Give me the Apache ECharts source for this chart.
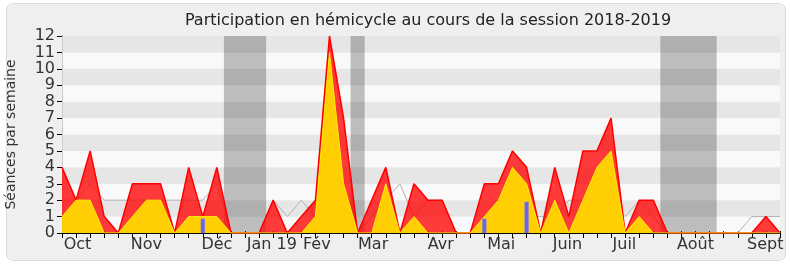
<!DOCTYPE html>
<html><head><meta charset="utf-8">
<script src="https://cdn.jsdelivr.net/npm/echarts@6/dist/echarts.min.js"></script>
<style>html,body{margin:0;padding:0;background:#fff}#c{width:790px;height:267px}</style>
</head><body><div id="c"></div>
<script>
// Weekly data, week index 0 = first week of October 2018
const seances    = [4,2,5,1,0,3,3,3,0,4,1,4,0,0,0,2,0,1,2,12,7,0,2,4,0,3,2,2,0,0,3,3,5,4,0,4,1,5,5,7,0,2,2,0,0,0,0,0,0,0,1,0];
const presences  = [1,2,2,0,0,1,2,2,0,1,1,1,0,0,0,0,0,0,1,11,3,0,0,3,0,1,0,0,0,0,1,2,4,3,0,2,0,2,4,5,0,1,0,0,0,0,0,0,0,0,0,0];
const mediane    = [2,2,3,2,2,2,2,2,2,2,2,3,0,0,0,2,1,2,1,3,2,0,1,2,3,1,2,2,0,0,1,2,2,1,1,1,2,2,1,2,1,2,1,0,0,0,0,0,0,1,1,1];
const questions  = [0,0,0,0,0,0,0,0,0,0,0.87,0,0,0,0,0,0,0,0,0,0,0,0,0,0,0,0,0,0,0,0.87,0,0,1.9,0,0,0,0,0,0,0,0,0,0,0,0,0,0,0,0,0,0];
const vacances   = [[11.5,14.5],[20.5,21.5],[42.5,46.5]];
const monthNames = ['Oct','Nov','Déc','Jan 19','Fév','Mar','Avr','Mai','Juin','Juil','Août','Sept'];
const monthPos   = [1.1,6.0,11.0,14.9,18.1,22.1,26.9,31.2,35.9,39.95,45.0,49.95];
const yTicks     = [0,1,2,3,4,5,6,7,8,9,10,11,12];

const FONT = "'DejaVu Sans',sans-serif";
const weekIdx = seances.map((_, i) => i);
const pairs = arr => arr.map((v, i) => [i, v]);

const chart = echarts.init(document.getElementById('c'), null, {renderer: 'canvas'});
chart.setOption({
  animation: false,
  backgroundColor: '#ffffff',
  graphic: [{
    type: 'rect', z: -10, silent: true,
    shape: {x: 6.5, y: 3.5, width: 779, height: 257, r: 6},
    style: {fill: '#efefef', stroke: '#dddddd', lineWidth: 1}
  }],
  title: {
    text: 'Participation en hémicycle au cours de la session 2018-2019',
    left: 423, top: 8, textAlign: 'center',
    textStyle: {fontFamily: FONT, fontSize: 16, fontWeight: 'normal', color: '#222'}
  },
  grid: {left: 62, right: 10, top: 36, bottom: 34, containLabel: false, outerBoundsMode: 'none'},
  xAxis: [{
    type: 'value', min: 0, max: seances.length - 1, position: 'bottom',
    axisLine: {show: true, onZero: false, lineStyle: {color: '#000', width: 1}},
    axisTick: {show: true, length: 5, customValues: weekIdx, lineStyle: {color: '#000'}},
    axisLabel: {
      show: true, customValues: monthPos, margin: 4,
      fontFamily: FONT, fontSize: 16, color: '#333',
      formatter: v => { const k = monthPos.indexOf(v); return k >= 0 ? monthNames[k] : ''; }
    },
    splitLine: {show: false}
  }, {
    type: 'value', min: 0, max: seances.length - 1, position: 'top',
    axisLine: {show: false},
    axisTick: {show: true, length: 2, customValues: weekIdx, lineStyle: {color: '#222'}},
    axisLabel: {show: false}, splitLine: {show: false}
  }],
  yAxis: [{
    type: 'value', min: 0, max: 12, interval: 1,
    name: 'Séances par semaine', nameLocation: 'middle', nameGap: 44,
    nameTextStyle: {fontFamily: FONT, fontSize: 14, color: '#333'},
    axisLine: {show: true, lineStyle: {color: '#000'}},
    axisTick: {show: true, length: 5, lineStyle: {color: '#000'}},
    axisLabel: {fontFamily: FONT, fontSize: 16, color: '#333', margin: 7,
      formatter: v => yTicks.includes(v) ? String(v) : ''},
    splitLine: {show: false},
    splitArea: {show: true, areaStyle: {color: ['#f9f9f9', '#e6e6e6']}}
  }, {
    type: 'value', min: 0, max: 12, position: 'right',
    axisLine: {show: true, lineStyle: {color: '#cccccc'}},
    axisTick: {show: false}, axisLabel: {show: false}, splitLine: {show: false}
  }],
  series: [{
    name: 'vacances', type: 'line', data: [], z: 1, silent: true,
    markArea: {
      silent: true,
      itemStyle: {color: 'rgba(0,0,0,0.24)'},
      data: vacances.map(r => [{xAxis: r[0], yAxis: 0}, {xAxis: r[1], yAxis: 12}])
    }
  }, {
    name: 'médiane', type: 'line', data: pairs(mediane), z: 2,
    symbol: 'none', lineStyle: {color: '#b0b0b0', width: 1}
  }, {
    name: 'séances', type: 'line', data: pairs(seances), z: 3,
    symbol: 'none', lineStyle: {color: '#ff0000', width: 1.5},
    areaStyle: {color: 'rgba(255,0,0,0.77)', opacity: 1, origin: 'start'}
  }, {
    name: 'présences', type: 'line', data: pairs(presences), z: 4,
    symbol: 'none', lineStyle: {color: '#ffee00', width: 1},
    areaStyle: {color: 'rgba(255,220,0,0.92)', opacity: 1, origin: 'start'}
  }, {
    name: 'questions', type: 'bar', data: pairs(questions), z: 5,
    barWidth: 4, itemStyle: {color: '#6666ff'}
  }]
});
</script></body></html>
